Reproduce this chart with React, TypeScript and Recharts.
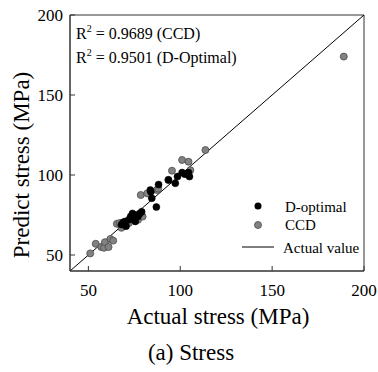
import React from "react";
import {
  ScatterChart,
  Scatter,
  XAxis,
  YAxis,
  ReferenceLine,
  ReferenceArea,
} from "recharts";

// CCD design points (actual, predicted)
const CCD_ACTUAL = [51, 54, 57, 58.5, 59, 61, 62, 63.5, 65.5, 67, 68, 70, 72, 75, 77, 79.5, 78.5, 82, 87.3, 88, 93.5, 95.5, 101, 104.5, 105.5, 113.7, 189];
const CCD_PRED = [51, 57, 55, 54.5, 58, 55, 60, 59, 69.5, 70, 67, 69, 70, 74, 72, 74, 87.5, 88.5, 90.6, 91.5, 97, 102.7, 109.4, 108.3, 103, 115.6, 174];

// D-optimal design points (actual, predicted)
const DOPT_ACTUAL = [68, 69, 70, 70.5, 72, 73, 74, 75, 76, 77, 78, 79, 75.5, 83.7, 84, 84.5, 87, 88.2, 93.6, 97.3, 98.5, 101, 102.5, 105, 104.5];
const DOPT_PRED = [69, 70.5, 71, 68, 72, 74, 76, 73, 75, 74, 76, 77, 71, 90.6, 89.5, 85.5, 80, 94, 96.9, 94.8, 99, 101.5, 100.5, 99, 101.5];

const AXIS_MIN = 40;
const AXIS_MAX = 200;
const TICKS = [50, 100, 150, 200];

const LEGEND_LABELS = ["D-optimal", "CCD", "Actual value"];

const ccdData = CCD_ACTUAL.map((x, i) => ({ x, y: CCD_PRED[i] }));
const doptData = DOPT_ACTUAL.map((x, i) => ({ x, y: DOPT_PRED[i] }));

const FONT = "Liberation Serif";
const GRAY = "#828282";
const GRAY_EDGE = "#4a4a4a";
const DOT_R = 3.5;

const GrayDot = (props: any) => (
  <circle cx={props.cx} cy={props.cy} r={DOT_R} fill={GRAY} stroke={GRAY_EDGE} strokeWidth={0.8} />
);
const BlackDot = (props: any) => (
  <circle cx={props.cx} cy={props.cy} r={DOT_R} fill="#000" stroke="#000" strokeWidth={0.5} />
);

export default function App() {
  return (
    <div style={{ position: "absolute", left: 0, top: 0, width: 378, height: 372, background: "#fff" }}>
      <ScatterChart width={378} height={372} margin={{ top: 15, right: 14, bottom: 71, left: 20 }}>
        <XAxis
          type="number"
          dataKey="x"
          domain={[AXIS_MIN, AXIS_MAX]}
          ticks={TICKS}
          height={30}
          tickSize={-5}
          tickMargin={18}
          tick={{ fontSize: 17, fill: "#000", fontFamily: FONT }}
          axisLine={{ stroke: "#333" }}
          tickLine={{ stroke: "#333" }}
          allowDataOverflow
        />
        <YAxis
          type="number"
          dataKey="y"
          domain={[AXIS_MIN, AXIS_MAX]}
          ticks={TICKS}
          width={50}
          tickSize={-5}
          tickMargin={12}
          tick={{ fontSize: 17, fill: "#000", fontFamily: FONT }}
          axisLine={{ stroke: "#333" }}
          tickLine={{ stroke: "#333" }}
          allowDataOverflow
        />
        <ReferenceArea
          x1={AXIS_MIN}
          x2={AXIS_MAX}
          y1={AXIS_MIN}
          y2={AXIS_MAX}
          fill="none"
          stroke="#333"
          strokeWidth={1}
        />
        <ReferenceLine
          segment={[
            { x: AXIS_MIN, y: AXIS_MIN },
            { x: AXIS_MAX, y: AXIS_MAX },
          ]}
          stroke="#000"
          strokeWidth={1}
        />
        <Scatter data={ccdData} shape={<GrayDot />} isAnimationActive={false} />
        <Scatter data={doptData} shape={<BlackDot />} isAnimationActive={false} />
      </ScatterChart>
      <svg
        width={378}
        height={372}
        style={{ position: "absolute", left: 0, top: 0, pointerEvents: "none" }}
      >
        {/* annotations */}
        <text x={76} y={39} fontSize={16} fill="#000" fontFamily={FONT}>
          R<tspan fontSize={10} dy={-7}>2</tspan>
          <tspan dy={7}> = 0.9689 (CCD)</tspan>
        </text>
        <text x={76} y={63} fontSize={16} fill="#000" fontFamily={FONT}>
          R<tspan fontSize={10} dy={-7}>2</tspan>
          <tspan dy={7}> = 0.9501 (D-Optimal)</tspan>
        </text>

        {/* legend */}
        <circle cx={258} cy={206} r={DOT_R} fill="#000" />
        <text x={285} y={212} fontSize={15} fill="#000" fontFamily={FONT}>{LEGEND_LABELS[0]}</text>
        <circle cx={258} cy={225} r={DOT_R} fill={GRAY} stroke={GRAY_EDGE} strokeWidth={0.8} />
        <text x={285} y={230} fontSize={15} fill="#000" fontFamily={FONT}>{LEGEND_LABELS[1]}</text>
        <line x1={242} x2={274} y1={247} y2={247} stroke="#000" strokeWidth={1} />
        <text x={283} y={253} fontSize={15} fill="#000" fontFamily={FONT}>{LEGEND_LABELS[2]}</text>

        {/* axis titles */}
        <text x={218} y={324} fontSize={23} textAnchor="middle" fill="#000" fontFamily={FONT}>
          Actual stress (MPa)
        </text>
        <text x={191} y={360} fontSize={23} textAnchor="middle" fill="#000" fontFamily={FONT}>
          (a) Stress
        </text>
        <text
          x={0}
          y={0}
          fontSize={23}
          textAnchor="middle"
          fill="#000"
          fontFamily={FONT}
          transform="translate(29,165) rotate(-90)"
        >
          Predict stress (MPa)
        </text>
      </svg>
    </div>
  );
}
